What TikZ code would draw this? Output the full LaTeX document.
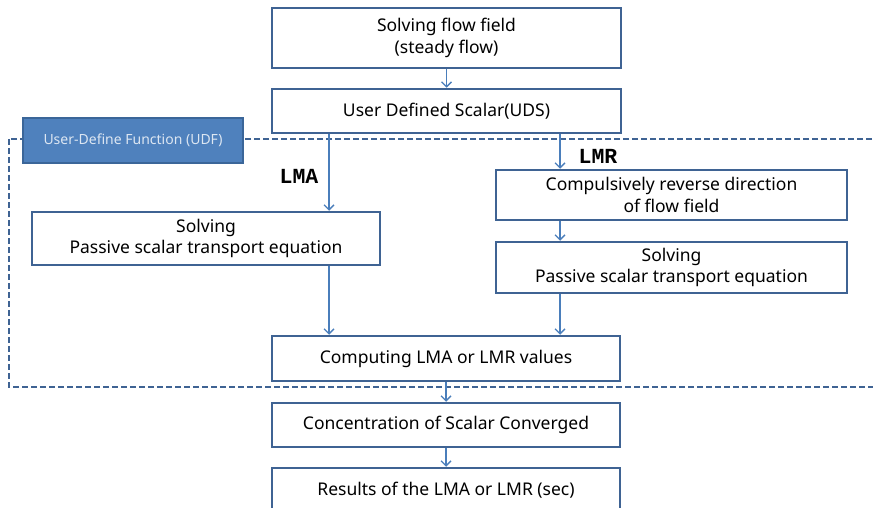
\documentclass[tikz,border=0pt]{standalone}
\usepackage{fontspec}
\setmainfont{Noto Sans}
\newfontfamily\codefont{Liberation Mono}
\usetikzlibrary{arrows.meta,calc}
\definecolor{boxline}{HTML}{3F6393}
\definecolor{arrowc}{HTML}{4A7EBB}
\definecolor{udffill}{HTML}{4F81BD}
\definecolor{udfline}{HTML}{3B6699}
\definecolor{udftext}{HTML}{DCE6F2}
\tikzset{
  stepbox/.style={draw=boxline, line width=2.5pt, fill=white, align=center,
    inner sep=0pt, font=\fontsize{17.5}{21.5}\selectfont, text=black},
  arr/.style={draw=arrowc, line width=1.3pt, -{Straight Barb[length=5pt,width=10pt]}},
  lab/.style={font=\codefont\bfseries\fontsize{21.5}{23}\selectfont},
}
\begin{document}
\begin{tikzpicture}[x=1pt,y=-1pt]
\useasboundingbox (0,0) rectangle (873,508);
\clip (0,0) rectangle (873,508);
% dashed UDF region
\draw[draw=boxline, line width=1.8pt, dash pattern=on 6pt off 3pt] (9,139) rectangle (890,387);
\node[draw=udfline, line width=1.5pt, fill=udffill, text=udftext, minimum width=220pt, minimum height=45pt, inner sep=0pt, font=\fontsize{14}{16}\selectfont] (udf) at (133,140.5) {User-Define Function (UDF)};
% boxes
\node[stepbox, minimum width=349pt, minimum height=60pt] (b1) at (446.5,38) {Solving flow field\\(steady flow)};
\node[stepbox, minimum width=349pt, minimum height=44pt] (b2) at (446.5,111) {User Defined Scalar(UDS)};
\node[stepbox, minimum width=348pt, minimum height=53pt] (b3) at (206,238.5) {Solving\\Passive scalar transport equation};
\node[stepbox, minimum width=351pt, minimum height=50pt] (b4) at (671.5,195) {Compulsively reverse direction\\of flow field};
\node[stepbox, minimum width=351pt, minimum height=51pt] (b5) at (671.5,267.5) {Solving\\Passive scalar transport equation};
\node[stepbox, minimum width=348pt, minimum height=45pt] (b6) at (446,358.5) {Computing LMA or LMR values};
\node[stepbox, minimum width=348pt, minimum height=44pt] (b7) at (446,425) {Concentration of Scalar Converged};
\node[stepbox, minimum width=348pt, minimum height=44pt] (b8) at (446,490) {Results of the LMA or LMR (sec)};
% labels
\node[lab] (lma) at (299,176) {LMA};
\node[lab] (lmr) at (598,156) {LMR};
% arrows
\coordinate (xa) at (329,0);
\coordinate (xr) at (560,0);
\draw[arr] (b1) -- (b2);
\draw[arr] (b2.south -| xa) -- (b3.north -| xa);
\draw[arr] (b2.south -| xr) -- (b4.north -| xr);
\draw[arr] (b4.south -| xr) -- (b5.north -| xr);
\draw[arr] (b3.south -| xa) -- (b6.north -| xa);
\draw[arr] (b5.south -| xr) -- (b6.north -| xr);
\draw[arr] (b6) -- (b7);
\draw[arr] (b7) -- (b8);
\end{tikzpicture}
\end{document}
